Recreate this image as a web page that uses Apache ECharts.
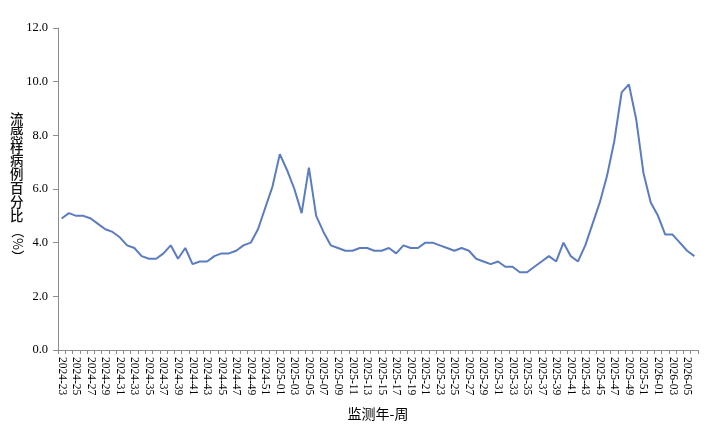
<!DOCTYPE html>
<html>
<head>
<meta charset="utf-8">
<script src="https://cdn.jsdelivr.net/npm/echarts@6/dist/echarts.min.js"></script>
<style>html,body{margin:0;padding:0;background:#fff}#c{width:714px;height:426px}</style>
</head>
<body>
<div id="c"></div>
<script>
var weeks = [
"2024-23","2024-24","2024-25","2024-26","2024-27","2024-28","2024-29","2024-30","2024-31","2024-32",
"2024-33","2024-34","2024-35","2024-36","2024-37","2024-38","2024-39","2024-40","2024-41","2024-42",
"2024-43","2024-44","2024-45","2024-46","2024-47","2024-48","2024-49","2024-50","2024-51","2024-52",
"2025-01","2025-02","2025-03","2025-04","2025-05","2025-06","2025-07","2025-08","2025-09","2025-10",
"2025-11","2025-12","2025-13","2025-14","2025-15","2025-16","2025-17","2025-18","2025-19","2025-20",
"2025-21","2025-22","2025-23","2025-24","2025-25","2025-26","2025-27","2025-28","2025-29","2025-30",
"2025-31","2025-32","2025-33","2025-34","2025-35","2025-36","2025-37","2025-38","2025-39","2025-40",
"2025-41","2025-42","2025-43","2025-44","2025-45","2025-46","2025-47","2025-48","2025-49","2025-50",
"2025-51","2025-52",
"2026-01","2026-02","2026-03","2026-04","2026-05","2026-06"
];
var iliPercent = [
4.9,5.1,5.0,5.0,4.9,4.7,4.5,4.4,4.2,3.9,
3.8,3.5,3.4,3.4,3.6,3.9,3.4,3.8,3.2,3.3,
3.3,3.5,3.6,3.6,3.7,3.9,4.0,4.5,5.3,6.1,
7.3,6.7,6.0,5.1,6.8,5.0,4.4,3.9,3.8,3.7,
3.7,3.8,3.8,3.7,3.7,3.8,3.6,3.9,3.8,3.8,
4.0,4.0,3.9,3.8,3.7,3.8,3.7,3.4,3.3,3.2,
3.3,3.1,3.1,2.9,2.9,3.1,3.3,3.5,3.3,4.0,
3.5,3.3,3.9,4.7,5.5,6.5,7.8,9.6,9.9,8.6,
6.6,5.5,
5.0,4.3,4.3,4.0,3.7,3.5
];
var yTitle = "流感样病例百分比";
var yUnit = "（%）";
var xTitle = "监测年-周";

var chart = echarts.init(document.getElementById('c'));
var serif = "'Liberation Serif','Times New Roman',serif";
chart.setOption({
  animation: false,
  backgroundColor: '#fff',
  grid: {left: 58, right: 16, top: 28, bottom: 76},
  xAxis: {
    type: 'category',
    data: weeks,
    boundaryGap: true,
    name: xTitle,
    nameLocation: 'middle',
    nameGap: 57,
    nameTextStyle: {fontFamily: "'Noto Sans CJK SC'", fontSize: 14, color: '#000'},
    axisLine: {lineStyle: {color: '#8c8c8c', width: 1}},
    axisTick: {show: true, interval: 0, length: 4, inside: false, lineStyle: {color: '#8c8c8c'}},
    axisLabel: {interval: 1, rotate: -90, margin: 7, fontFamily: serif, fontSize: 11.5, color: '#000'},
    splitLine: {show: false}
  },
  yAxis: {
    type: 'value',
    min: 0, max: 12, interval: 2,
    axisLine: {show: true, lineStyle: {color: '#8c8c8c', width: 1}},
    axisTick: {show: true, length: 5, lineStyle: {color: '#8c8c8c'}},
    axisLabel: {margin: 10, fontFamily: serif, fontSize: 12.5, color: '#000', formatter: function(v){return v.toFixed(1);}},
    splitLine: {show: false}
  },
  graphic: [
    {type: 'text', left: 10, top: 112, style: {text: yTitle.split('').join('\n'), fontFamily: "'Noto Sans CJK SC'", fontSize: 13.5, lineHeight: 13.8, fontWeight: 500, fill: '#111'}},
    {type: 'text', x: 24, y: 225, rotation: -Math.PI/2, style: {text: yUnit, fontFamily: "'Noto Sans CJK SC'", fontSize: 13, fill: '#000'}}
  ],
  series: [{
    type: 'line',
    data: iliPercent,
    symbol: 'none',
    smooth: false,
    lineStyle: {color: '#5b7cbf', width: 2}
  }]
});
</script>
</body>
</html>
